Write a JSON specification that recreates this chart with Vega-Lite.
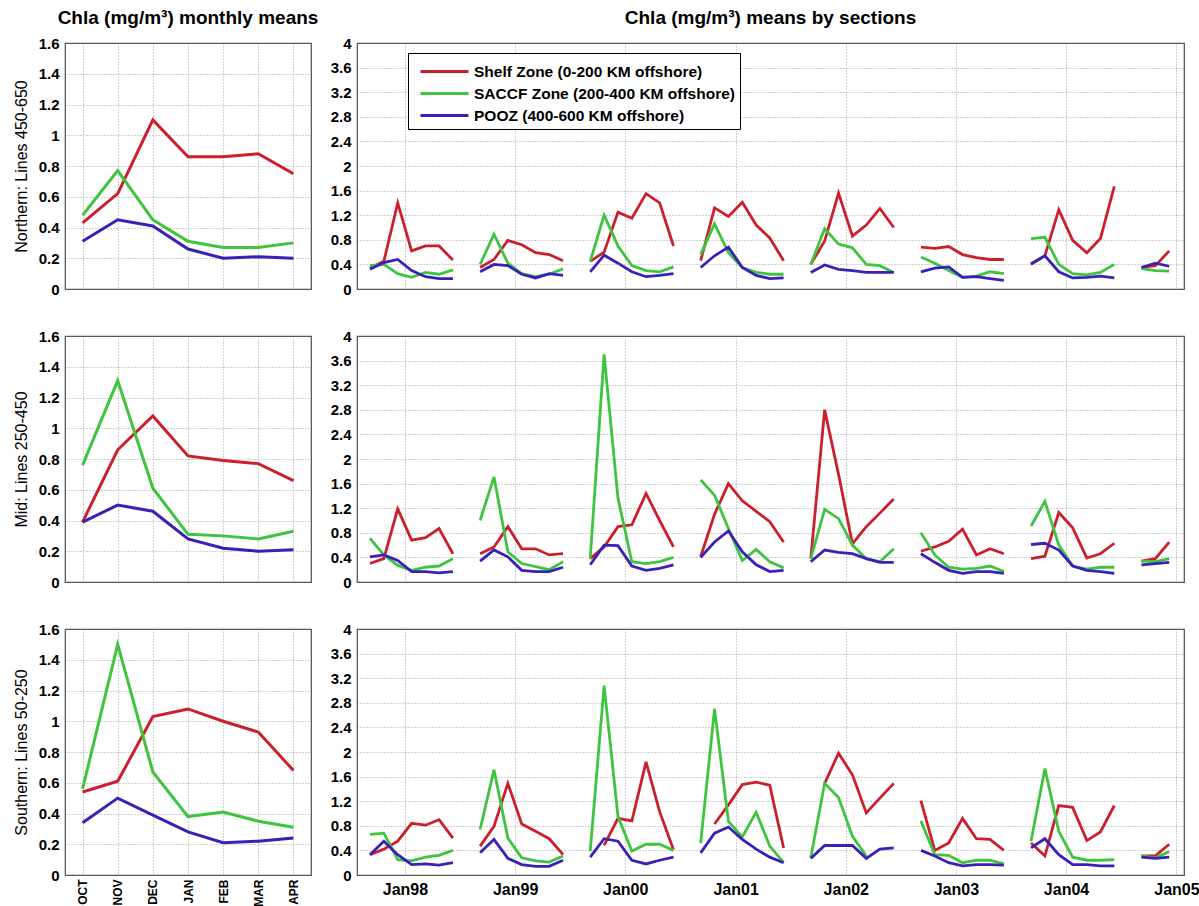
{
 "$schema": "https://vega.github.io/schema/vega-lite/v6.json",
 "background": "white",
 "padding": {"left": 12, "top": 8, "right": 2, "bottom": 0},
 "config": {
  "font": "Liberation Sans",
  "view": {"stroke": "#4d4d4d", "strokeWidth": 1.2},
  "axis": {"domain": false, "ticks": false, "grid": true, "gridColor": "#777777", "gridDash": [1, 2], "gridWidth": 1, "gridOpacity": 0.7, "labelFont": "Liberation Sans", "labelFontWeight": "bold", "labelFontSize": 15, "labelColor": "#000000", "labelPadding": 6, "labelFlush": false, "titleFont": "Liberation Sans", "titleFontWeight": "normal", "titleFontSize": 16, "titleColor": "#000000", "titlePadding": 9},
  "title": {"font": "Liberation Sans", "fontSize": 19, "fontWeight": "bold", "color": "#000000", "frame": "group", "anchor": "middle", "offset": 8}
 },
 "datasets": {
  "L": [
   {"r": "N", "m": "OCT", "s": 0.43, "c": 0.48, "p": 0.31},
   {"r": "N", "m": "NOV", "s": 0.62, "c": 0.77, "p": 0.45},
   {"r": "N", "m": "DEC", "s": 1.10, "c": 0.45, "p": 0.41},
   {"r": "N", "m": "JAN", "s": 0.86, "c": 0.31, "p": 0.26},
   {"r": "N", "m": "FEB", "s": 0.86, "c": 0.27, "p": 0.20},
   {"r": "N", "m": "MAR", "s": 0.88, "c": 0.27, "p": 0.21},
   {"r": "N", "m": "APR", "s": 0.75, "c": 0.30, "p": 0.20},
   {"r": "M", "m": "OCT", "s": 0.39, "c": 0.76, "p": 0.39},
   {"r": "M", "m": "NOV", "s": 0.86, "c": 1.31, "p": 0.50},
   {"r": "M", "m": "DEC", "s": 1.08, "c": 0.61, "p": 0.46},
   {"r": "M", "m": "JAN", "s": 0.82, "c": 0.31, "p": 0.28},
   {"r": "M", "m": "FEB", "s": 0.79, "c": 0.30, "p": 0.22},
   {"r": "M", "m": "MAR", "s": 0.77, "c": 0.28, "p": 0.20},
   {"r": "M", "m": "APR", "s": 0.66, "c": 0.33, "p": 0.21},
   {"r": "S", "m": "OCT", "s": 0.54, "c": 0.56, "p": 0.34},
   {"r": "S", "m": "NOV", "s": 0.61, "c": 1.50, "p": 0.50},
   {"r": "S", "m": "DEC", "s": 1.03, "c": 0.67, "p": 0.39},
   {"r": "S", "m": "JAN", "s": 1.08, "c": 0.38, "p": 0.28},
   {"r": "S", "m": "FEB", "s": 1.00, "c": 0.41, "p": 0.21},
   {"r": "S", "m": "MAR", "s": 0.93, "c": 0.35, "p": 0.22},
   {"r": "S", "m": "APR", "s": 0.68, "c": 0.31, "p": 0.24}
  ],
  "T": [
   {"r": "N", "g": 1, "d": "1997-09-07", "s": 0.34, "c": 0.38, "p": 0.32},
   {"r": "N", "g": 1, "d": "1997-10-23", "s": 0.45, "c": 0.40, "p": 0.43},
   {"r": "N", "g": 1, "d": "1997-12-08", "s": 1.40, "c": 0.25, "p": 0.48},
   {"r": "N", "g": 1, "d": "1998-01-23", "s": 0.62, "c": 0.19, "p": 0.30},
   {"r": "N", "g": 1, "d": "1998-03-10", "s": 0.70, "c": 0.27, "p": 0.20},
   {"r": "N", "g": 1, "d": "1998-04-24", "s": 0.70, "c": 0.24, "p": 0.17},
   {"r": "N", "g": 1, "d": "1998-06-09", "s": 0.47, "c": 0.31, "p": 0.17},
   {"r": "N", "g": 2, "d": "1998-09-07", "s": 0.35, "c": 0.40, "p": 0.28},
   {"r": "N", "g": 2, "d": "1998-10-23", "s": 0.48, "c": 0.89, "p": 0.40},
   {"r": "N", "g": 2, "d": "1998-12-08", "s": 0.79, "c": 0.42, "p": 0.38},
   {"r": "N", "g": 2, "d": "1999-01-23", "s": 0.72, "c": 0.25, "p": 0.24},
   {"r": "N", "g": 2, "d": "1999-03-10", "s": 0.59, "c": 0.20, "p": 0.18},
   {"r": "N", "g": 2, "d": "1999-04-24", "s": 0.56, "c": 0.24, "p": 0.25},
   {"r": "N", "g": 2, "d": "1999-06-09", "s": 0.46, "c": 0.33, "p": 0.22},
   {"r": "N", "g": 3, "d": "1999-09-07", "s": 0.45, "c": 0.45, "p": 0.28},
   {"r": "N", "g": 3, "d": "1999-10-23", "s": 0.60, "c": 1.20, "p": 0.55},
   {"r": "N", "g": 3, "d": "1999-12-08", "s": 1.25, "c": 0.70, "p": 0.42},
   {"r": "N", "g": 3, "d": "2000-01-23", "s": 1.15, "c": 0.38, "p": 0.28},
   {"r": "N", "g": 3, "d": "2000-03-10", "s": 1.55, "c": 0.30, "p": 0.20},
   {"r": "N", "g": 3, "d": "2000-04-24", "s": 1.40, "c": 0.28, "p": 0.22},
   {"r": "N", "g": 3, "d": "2000-06-09", "s": 0.70, "c": 0.36, "p": 0.25},
   {"r": "N", "g": 4, "d": "2000-09-07", "s": 0.46, "c": 0.56, "p": 0.35},
   {"r": "N", "g": 4, "d": "2000-10-23", "s": 1.32, "c": 1.06, "p": 0.54},
   {"r": "N", "g": 4, "d": "2000-12-08", "s": 1.18, "c": 0.59, "p": 0.68},
   {"r": "N", "g": 4, "d": "2001-01-23", "s": 1.41, "c": 0.35, "p": 0.35},
   {"r": "N", "g": 4, "d": "2001-03-10", "s": 1.04, "c": 0.27, "p": 0.22},
   {"r": "N", "g": 4, "d": "2001-04-24", "s": 0.83, "c": 0.24, "p": 0.17},
   {"r": "N", "g": 4, "d": "2001-06-09", "s": 0.46, "c": 0.24, "p": 0.18},
   {"r": "N", "g": 5, "d": "2001-09-07", "s": 0.40, "c": 0.40, "p": 0.27},
   {"r": "N", "g": 5, "d": "2001-10-23", "s": 0.78, "c": 0.98, "p": 0.39},
   {"r": "N", "g": 5, "d": "2001-12-08", "s": 1.56, "c": 0.73, "p": 0.32},
   {"r": "N", "g": 5, "d": "2002-01-23", "s": 0.86, "c": 0.67, "p": 0.30},
   {"r": "N", "g": 5, "d": "2002-03-10", "s": 1.04, "c": 0.40, "p": 0.27},
   {"r": "N", "g": 5, "d": "2002-04-24", "s": 1.31, "c": 0.38, "p": 0.27},
   {"r": "N", "g": 5, "d": "2002-06-09", "s": 1.00, "c": 0.27, "p": 0.27},
   {"r": "N", "g": 6, "d": "2002-09-07", "s": 0.68, "c": 0.52, "p": 0.28},
   {"r": "N", "g": 6, "d": "2002-10-23", "s": 0.66, "c": 0.42, "p": 0.34},
   {"r": "N", "g": 6, "d": "2002-12-08", "s": 0.69, "c": 0.30, "p": 0.36},
   {"r": "N", "g": 6, "d": "2003-01-23", "s": 0.56, "c": 0.19, "p": 0.19},
   {"r": "N", "g": 6, "d": "2003-03-10", "s": 0.51, "c": 0.21, "p": 0.20},
   {"r": "N", "g": 6, "d": "2003-04-24", "s": 0.48, "c": 0.28, "p": 0.17},
   {"r": "N", "g": 6, "d": "2003-06-09", "s": 0.48, "c": 0.25, "p": 0.14},
   {"r": "N", "g": 7, "d": "2003-09-07", "s": 0.40, "c": 0.82, "p": 0.41},
   {"r": "N", "g": 7, "d": "2003-10-23", "s": 0.54, "c": 0.84, "p": 0.54},
   {"r": "N", "g": 7, "d": "2003-12-08", "s": 1.29, "c": 0.40, "p": 0.28},
   {"r": "N", "g": 7, "d": "2004-01-23", "s": 0.79, "c": 0.25, "p": 0.18},
   {"r": "N", "g": 7, "d": "2004-03-10", "s": 0.59, "c": 0.23, "p": 0.19},
   {"r": "N", "g": 7, "d": "2004-04-24", "s": 0.82, "c": 0.27, "p": 0.21},
   {"r": "N", "g": 7, "d": "2004-06-09", "s": 1.67, "c": 0.40, "p": 0.18},
   {"r": "N", "g": 8, "d": "2004-09-07", "s": 0.35, "c": 0.33, "p": 0.35},
   {"r": "N", "g": 8, "d": "2004-10-23", "s": 0.38, "c": 0.30, "p": 0.42},
   {"r": "N", "g": 8, "d": "2004-12-08", "s": 0.62, "c": 0.29, "p": 0.37},
   {"r": "M", "g": 1, "d": "1997-09-07", "s": 0.30, "c": 0.71, "p": 0.41},
   {"r": "M", "g": 1, "d": "1997-10-23", "s": 0.38, "c": 0.44, "p": 0.44},
   {"r": "M", "g": 1, "d": "1997-12-08", "s": 1.19, "c": 0.27, "p": 0.35},
   {"r": "M", "g": 1, "d": "1998-01-23", "s": 0.68, "c": 0.19, "p": 0.17},
   {"r": "M", "g": 1, "d": "1998-03-10", "s": 0.72, "c": 0.24, "p": 0.17},
   {"r": "M", "g": 1, "d": "1998-04-24", "s": 0.87, "c": 0.26, "p": 0.15},
   {"r": "M", "g": 1, "d": "1998-06-09", "s": 0.46, "c": 0.38, "p": 0.17},
   {"r": "M", "g": 2, "d": "1998-09-07", "s": 0.46, "c": 1.00, "p": 0.34},
   {"r": "M", "g": 2, "d": "1998-10-23", "s": 0.57, "c": 1.71, "p": 0.52},
   {"r": "M", "g": 2, "d": "1998-12-08", "s": 0.90, "c": 0.49, "p": 0.41},
   {"r": "M", "g": 2, "d": "1999-01-23", "s": 0.54, "c": 0.30, "p": 0.19},
   {"r": "M", "g": 2, "d": "1999-03-10", "s": 0.54, "c": 0.25, "p": 0.17},
   {"r": "M", "g": 2, "d": "1999-04-24", "s": 0.44, "c": 0.20, "p": 0.17},
   {"r": "M", "g": 2, "d": "1999-06-09", "s": 0.46, "c": 0.33, "p": 0.24},
   {"r": "M", "g": 3, "d": "1999-09-07", "s": 0.38, "c": 0.38, "p": 0.28},
   {"r": "M", "g": 3, "d": "1999-10-23", "s": 0.57, "c": 3.70, "p": 0.60},
   {"r": "M", "g": 3, "d": "1999-12-08", "s": 0.90, "c": 1.36, "p": 0.59},
   {"r": "M", "g": 3, "d": "2000-01-23", "s": 0.93, "c": 0.33, "p": 0.26},
   {"r": "M", "g": 3, "d": "2000-03-10", "s": 1.44, "c": 0.30, "p": 0.19},
   {"r": "M", "g": 3, "d": "2000-04-24", "s": 1.00, "c": 0.33, "p": 0.22},
   {"r": "M", "g": 3, "d": "2000-06-09", "s": 0.57, "c": 0.40, "p": 0.28},
   {"r": "M", "g": 4, "d": "2000-09-07", "s": 0.41, "c": 1.66, "p": 0.40},
   {"r": "M", "g": 4, "d": "2000-10-23", "s": 1.10, "c": 1.41, "p": 0.65},
   {"r": "M", "g": 4, "d": "2000-12-08", "s": 1.60, "c": 0.87, "p": 0.83},
   {"r": "M", "g": 4, "d": "2001-01-23", "s": 1.32, "c": 0.35, "p": 0.49},
   {"r": "M", "g": 4, "d": "2001-03-10", "s": 1.15, "c": 0.53, "p": 0.28},
   {"r": "M", "g": 4, "d": "2001-04-24", "s": 0.98, "c": 0.33, "p": 0.17},
   {"r": "M", "g": 4, "d": "2001-06-09", "s": 0.65, "c": 0.23, "p": 0.19},
   {"r": "M", "g": 5, "d": "2001-09-07", "s": 0.38, "c": 0.38, "p": 0.33},
   {"r": "M", "g": 5, "d": "2001-10-23", "s": 2.80, "c": 1.18, "p": 0.52},
   {"r": "M", "g": 5, "d": "2001-12-08", "s": 1.75, "c": 1.03, "p": 0.48},
   {"r": "M", "g": 5, "d": "2002-01-23", "s": 0.62, "c": 0.60, "p": 0.46},
   {"r": "M", "g": 5, "d": "2002-03-10", "s": 0.90, "c": 0.38, "p": 0.38},
   {"r": "M", "g": 5, "d": "2002-04-24", "s": 1.12, "c": 0.33, "p": 0.32},
   {"r": "M", "g": 5, "d": "2002-06-09", "s": 1.35, "c": 0.54, "p": 0.32},
   {"r": "M", "g": 6, "d": "2002-09-07", "s": 0.50, "c": 0.80, "p": 0.46},
   {"r": "M", "g": 6, "d": "2002-10-23", "s": 0.57, "c": 0.44, "p": 0.32},
   {"r": "M", "g": 6, "d": "2002-12-08", "s": 0.66, "c": 0.24, "p": 0.19},
   {"r": "M", "g": 6, "d": "2003-01-23", "s": 0.86, "c": 0.21, "p": 0.14},
   {"r": "M", "g": 6, "d": "2003-03-10", "s": 0.44, "c": 0.22, "p": 0.17},
   {"r": "M", "g": 6, "d": "2003-04-24", "s": 0.54, "c": 0.26, "p": 0.17},
   {"r": "M", "g": 6, "d": "2003-06-09", "s": 0.46, "c": 0.17, "p": 0.14},
   {"r": "M", "g": 7, "d": "2003-09-07", "s": 0.38, "c": 0.91, "p": 0.61},
   {"r": "M", "g": 7, "d": "2003-10-23", "s": 0.42, "c": 1.31, "p": 0.63},
   {"r": "M", "g": 7, "d": "2003-12-08", "s": 1.13, "c": 0.60, "p": 0.52},
   {"r": "M", "g": 7, "d": "2004-01-23", "s": 0.88, "c": 0.26, "p": 0.26},
   {"r": "M", "g": 7, "d": "2004-03-10", "s": 0.39, "c": 0.21, "p": 0.19},
   {"r": "M", "g": 7, "d": "2004-04-24", "s": 0.46, "c": 0.24, "p": 0.17},
   {"r": "M", "g": 7, "d": "2004-06-09", "s": 0.63, "c": 0.24, "p": 0.14},
   {"r": "M", "g": 8, "d": "2004-09-07", "s": 0.34, "c": 0.34, "p": 0.28},
   {"r": "M", "g": 8, "d": "2004-10-23", "s": 0.38, "c": 0.33, "p": 0.30},
   {"r": "M", "g": 8, "d": "2004-12-08", "s": 0.65, "c": 0.38, "p": 0.32},
   {"r": "S", "g": 1, "d": "1997-09-07", "s": 0.33, "c": 0.66, "p": 0.33},
   {"r": "S", "g": 1, "d": "1997-10-23", "s": 0.42, "c": 0.68, "p": 0.55},
   {"r": "S", "g": 1, "d": "1997-12-08", "s": 0.55, "c": 0.25, "p": 0.33},
   {"r": "S", "g": 1, "d": "1998-01-23", "s": 0.84, "c": 0.23, "p": 0.17},
   {"r": "S", "g": 1, "d": "1998-03-10", "s": 0.81, "c": 0.29, "p": 0.18},
   {"r": "S", "g": 1, "d": "1998-04-24", "s": 0.90, "c": 0.32, "p": 0.16},
   {"r": "S", "g": 1, "d": "1998-06-09", "s": 0.60, "c": 0.40, "p": 0.20},
   {"r": "S", "g": 2, "d": "1998-09-07", "s": 0.47, "c": 0.74, "p": 0.36},
   {"r": "S", "g": 2, "d": "1998-10-23", "s": 0.79, "c": 1.71, "p": 0.58},
   {"r": "S", "g": 2, "d": "1998-12-08", "s": 1.49, "c": 0.60, "p": 0.27},
   {"r": "S", "g": 2, "d": "1999-01-23", "s": 0.83, "c": 0.28, "p": 0.17},
   {"r": "S", "g": 2, "d": "1999-03-10", "s": 0.71, "c": 0.23, "p": 0.14},
   {"r": "S", "g": 2, "d": "1999-04-24", "s": 0.59, "c": 0.21, "p": 0.14},
   {"r": "S", "g": 2, "d": "1999-06-09", "s": 0.33, "c": 0.31, "p": 0.24},
   {"r": "S", "g": 3, "d": "1999-09-07", "s": null, "c": 0.39, "p": 0.29},
   {"r": "S", "g": 3, "d": "1999-10-23", "s": 0.48, "c": 3.08, "p": 0.59},
   {"r": "S", "g": 3, "d": "1999-12-08", "s": 0.92, "c": 0.95, "p": 0.55},
   {"r": "S", "g": 3, "d": "2000-01-23", "s": 0.88, "c": 0.39, "p": 0.24},
   {"r": "S", "g": 3, "d": "2000-03-10", "s": 1.84, "c": 0.50, "p": 0.18},
   {"r": "S", "g": 3, "d": "2000-04-24", "s": 1.03, "c": 0.50, "p": 0.24},
   {"r": "S", "g": 3, "d": "2000-06-09", "s": 0.41, "c": 0.40, "p": 0.29},
   {"r": "S", "g": 4, "d": "2000-09-07", "s": null, "c": 0.52, "p": 0.36},
   {"r": "S", "g": 4, "d": "2000-10-23", "s": 0.83, "c": 2.70, "p": 0.68},
   {"r": "S", "g": 4, "d": "2000-12-08", "s": 1.14, "c": 0.87, "p": 0.78},
   {"r": "S", "g": 4, "d": "2001-01-23", "s": 1.47, "c": 0.62, "p": 0.58},
   {"r": "S", "g": 4, "d": "2001-03-10", "s": 1.51, "c": 1.02, "p": 0.42},
   {"r": "S", "g": 4, "d": "2001-04-24", "s": 1.46, "c": 0.47, "p": 0.29},
   {"r": "S", "g": 4, "d": "2001-06-09", "s": 0.44, "c": 0.20, "p": 0.20},
   {"r": "S", "g": 5, "d": "2001-09-07", "s": null, "c": 0.28, "p": 0.27},
   {"r": "S", "g": 5, "d": "2001-10-23", "s": 1.49, "c": 1.49, "p": 0.48},
   {"r": "S", "g": 5, "d": "2001-12-08", "s": 1.98, "c": 1.26, "p": 0.48},
   {"r": "S", "g": 5, "d": "2002-01-23", "s": 1.63, "c": 0.63, "p": 0.48},
   {"r": "S", "g": 5, "d": "2002-03-10", "s": 1.01, "c": 0.31, "p": 0.27},
   {"r": "S", "g": 5, "d": "2002-04-24", "s": 1.25, "c": null, "p": 0.42},
   {"r": "S", "g": 5, "d": "2002-06-09", "s": 1.49, "c": null, "p": 0.44},
   {"r": "S", "g": 6, "d": "2002-09-07", "s": 1.21, "c": 0.88, "p": 0.40},
   {"r": "S", "g": 6, "d": "2002-10-23", "s": 0.40, "c": 0.33, "p": 0.31},
   {"r": "S", "g": 6, "d": "2002-12-08", "s": 0.52, "c": 0.32, "p": 0.20},
   {"r": "S", "g": 6, "d": "2003-01-23", "s": 0.92, "c": 0.20, "p": 0.15},
   {"r": "S", "g": 6, "d": "2003-03-10", "s": 0.59, "c": 0.24, "p": 0.17},
   {"r": "S", "g": 6, "d": "2003-04-24", "s": 0.58, "c": 0.24, "p": 0.17},
   {"r": "S", "g": 6, "d": "2003-06-09", "s": 0.40, "c": 0.18, "p": 0.16},
   {"r": "S", "g": 7, "d": "2003-09-07", "s": 0.52, "c": 0.55, "p": 0.44},
   {"r": "S", "g": 7, "d": "2003-10-23", "s": 0.31, "c": 1.73, "p": 0.59},
   {"r": "S", "g": 7, "d": "2003-12-08", "s": 1.13, "c": 0.71, "p": 0.33},
   {"r": "S", "g": 7, "d": "2004-01-23", "s": 1.10, "c": 0.29, "p": 0.17},
   {"r": "S", "g": 7, "d": "2004-03-10", "s": 0.56, "c": 0.24, "p": 0.17},
   {"r": "S", "g": 7, "d": "2004-04-24", "s": 0.70, "c": 0.24, "p": 0.15},
   {"r": "S", "g": 7, "d": "2004-06-09", "s": 1.13, "c": 0.25, "p": 0.15},
   {"r": "S", "g": 8, "d": "2004-09-07", "s": 0.31, "c": 0.31, "p": 0.29},
   {"r": "S", "g": 8, "d": "2004-10-23", "s": 0.31, "c": 0.28, "p": 0.27},
   {"r": "S", "g": 8, "d": "2004-12-08", "s": 0.50, "c": 0.38, "p": 0.29}
  ]
 },
 "columns": 2,
 "spacing": {"row": 47, "column": 46},
 "bounds": "flush",
 "align": "each",
 "resolve": {"scale": {"x": "independent", "y": "independent", "color": "independent"}},
 "concat": [
  {
   "title": "Chla (mg/m³) monthly means",
   "width": 246, "height": 246,
   "data": {"name": "L"},
   "transform": [{"filter": "datum.r == 'N'"}, {"fold": ["s", "c", "p"], "as": ["k", "v"]}],
   "mark": {"type": "line", "strokeWidth": 3},
   "encoding": {
    "x": {"field": "m", "type": "nominal", "sort": ["OCT", "NOV", "DEC", "JAN", "FEB", "MAR", "APR"], "scale": {"padding": 0.5}, "axis": {"title": null, "labels": false}},
    "y": {"field": "v", "type": "quantitative", "scale": {"domain": [0, 1.6]}, "axis": {"values": [0, 0.2, 0.4, 0.6, 0.8, 1, 1.2, 1.4, 1.6], "format": "~g", "title": "Northern: Lines 450-650"}},
    "color": {"field": "k", "type": "nominal", "scale": {"domain": ["s", "c", "p"], "range": ["#cc1f2e", "#3ec43e", "#3a20b8"]}, "legend": null}
   }
  },
  {
   "title": "Chla (mg/m³) means by sections",
   "width": 827, "height": 246,
   "data": {"name": "T"},
   "transform": [{"filter": "datum.r == 'N'"}, {"fold": ["s", "c", "p"], "as": ["k", "v"]}],
   "mark": {"type": "line", "strokeWidth": 2.8},
   "encoding": {
    "x": {"field": "d", "type": "temporal", "scale": {"type": "utc", "domain": [{"year": 1997, "month": 7, "date": 26, "utc": true}, {"year": 2005, "month": 1, "date": 26, "utc": true}]}, "axis": {"title": null, "labels": false, "values": [{"year": 1998, "month": 1, "date": 1, "utc": true}, {"year": 1999, "month": 1, "date": 1, "utc": true}, {"year": 2000, "month": 1, "date": 1, "utc": true}, {"year": 2001, "month": 1, "date": 1, "utc": true}, {"year": 2002, "month": 1, "date": 1, "utc": true}, {"year": 2003, "month": 1, "date": 1, "utc": true}, {"year": 2004, "month": 1, "date": 1, "utc": true}, {"year": 2005, "month": 1, "date": 1, "utc": true}]}},
    "y": {"field": "v", "type": "quantitative", "scale": {"domain": [0, 4]}, "axis": {"values": [0, 0.4, 0.8, 1.2, 1.6, 2, 2.4, 2.8, 3.2, 3.6, 4], "format": "~g", "title": null}},
    "color": {"field": "k", "type": "nominal", "scale": {"domain": ["s", "c", "p"], "range": ["#cc1f2e", "#3ec43e", "#3a20b8"]}, "legend": {"orient": "none", "legendX": 51, "legendY": 10, "title": null, "direction": "vertical", "strokeColor": "#000000", "fillColor": "#ffffff", "padding": 5, "rowPadding": -4, "symbolType": "M-2,0H2", "symbolSize": 576, "symbolOffset": 18, "symbolStrokeWidth": 2.8, "labelFont": "Liberation Sans", "labelFontSize": 15.5, "labelFontWeight": "bold", "labelColor": "#000000", "labelOffset": 16, "labelLimit": 400, "labelExpr": "datum.label == 's' ? 'Shelf Zone (0-200 KM offshore)' : datum.label == 'c' ? 'SACCF Zone (200-400 KM offshore)' : 'POOZ (400-600 KM offshore)'"}},
    "detail": {"field": "g", "type": "nominal"}
   }
  },
  {
   "width": 246, "height": 246,
   "data": {"name": "L"},
   "transform": [{"filter": "datum.r == 'M'"}, {"fold": ["s", "c", "p"], "as": ["k", "v"]}],
   "mark": {"type": "line", "strokeWidth": 3},
   "encoding": {
    "x": {"field": "m", "type": "nominal", "sort": ["OCT", "NOV", "DEC", "JAN", "FEB", "MAR", "APR"], "scale": {"padding": 0.5}, "axis": {"title": null, "labels": false}},
    "y": {"field": "v", "type": "quantitative", "scale": {"domain": [0, 1.6]}, "axis": {"values": [0, 0.2, 0.4, 0.6, 0.8, 1, 1.2, 1.4, 1.6], "format": "~g", "title": "Mid: Lines 250-450"}},
    "color": {"field": "k", "type": "nominal", "scale": {"domain": ["s", "c", "p"], "range": ["#cc1f2e", "#3ec43e", "#3a20b8"]}, "legend": null}
   }
  },
  {
   "width": 827, "height": 246,
   "data": {"name": "T"},
   "transform": [{"filter": "datum.r == 'M'"}, {"fold": ["s", "c", "p"], "as": ["k", "v"]}],
   "mark": {"type": "line", "strokeWidth": 2.8},
   "encoding": {
    "x": {"field": "d", "type": "temporal", "scale": {"type": "utc", "domain": [{"year": 1997, "month": 7, "date": 26, "utc": true}, {"year": 2005, "month": 1, "date": 26, "utc": true}]}, "axis": {"title": null, "labels": false, "values": [{"year": 1998, "month": 1, "date": 1, "utc": true}, {"year": 1999, "month": 1, "date": 1, "utc": true}, {"year": 2000, "month": 1, "date": 1, "utc": true}, {"year": 2001, "month": 1, "date": 1, "utc": true}, {"year": 2002, "month": 1, "date": 1, "utc": true}, {"year": 2003, "month": 1, "date": 1, "utc": true}, {"year": 2004, "month": 1, "date": 1, "utc": true}, {"year": 2005, "month": 1, "date": 1, "utc": true}]}},
    "y": {"field": "v", "type": "quantitative", "scale": {"domain": [0, 4]}, "axis": {"values": [0, 0.4, 0.8, 1.2, 1.6, 2, 2.4, 2.8, 3.2, 3.6, 4], "format": "~g", "title": null}},
    "color": {"field": "k", "type": "nominal", "scale": {"domain": ["s", "c", "p"], "range": ["#cc1f2e", "#3ec43e", "#3a20b8"]}, "legend": null},
    "detail": {"field": "g", "type": "nominal"}
   }
  },
  {
   "width": 246, "height": 246,
   "data": {"name": "L"},
   "transform": [{"filter": "datum.r == 'S'"}, {"fold": ["s", "c", "p"], "as": ["k", "v"]}],
   "mark": {"type": "line", "strokeWidth": 3},
   "encoding": {
    "x": {"field": "m", "type": "nominal", "sort": ["OCT", "NOV", "DEC", "JAN", "FEB", "MAR", "APR"], "scale": {"padding": 0.5}, "axis": {"title": null, "labelAngle": 270, "labelFontSize": 12, "labelPadding": 4}},
    "y": {"field": "v", "type": "quantitative", "scale": {"domain": [0, 1.6]}, "axis": {"values": [0, 0.2, 0.4, 0.6, 0.8, 1, 1.2, 1.4, 1.6], "format": "~g", "title": "Southern: Lines 50-250"}},
    "color": {"field": "k", "type": "nominal", "scale": {"domain": ["s", "c", "p"], "range": ["#cc1f2e", "#3ec43e", "#3a20b8"]}, "legend": null}
   }
  },
  {
   "width": 827, "height": 246,
   "data": {"name": "T"},
   "transform": [{"filter": "datum.r == 'S'"}, {"fold": ["s", "c", "p"], "as": ["k", "v"]}],
   "mark": {"type": "line", "strokeWidth": 2.8},
   "encoding": {
    "x": {"field": "d", "type": "temporal", "scale": {"type": "utc", "domain": [{"year": 1997, "month": 7, "date": 26, "utc": true}, {"year": 2005, "month": 1, "date": 26, "utc": true}]}, "axis": {"title": null, "format": "%b%y", "labelFontSize": 16, "labelPadding": 6, "values": [{"year": 1998, "month": 1, "date": 1, "utc": true}, {"year": 1999, "month": 1, "date": 1, "utc": true}, {"year": 2000, "month": 1, "date": 1, "utc": true}, {"year": 2001, "month": 1, "date": 1, "utc": true}, {"year": 2002, "month": 1, "date": 1, "utc": true}, {"year": 2003, "month": 1, "date": 1, "utc": true}, {"year": 2004, "month": 1, "date": 1, "utc": true}, {"year": 2005, "month": 1, "date": 1, "utc": true}]}},
    "y": {"field": "v", "type": "quantitative", "scale": {"domain": [0, 4]}, "axis": {"values": [0, 0.4, 0.8, 1.2, 1.6, 2, 2.4, 2.8, 3.2, 3.6, 4], "format": "~g", "title": null}},
    "color": {"field": "k", "type": "nominal", "scale": {"domain": ["s", "c", "p"], "range": ["#cc1f2e", "#3ec43e", "#3a20b8"]}, "legend": null},
    "detail": {"field": "g", "type": "nominal"}
   }
  }
 ]
}
